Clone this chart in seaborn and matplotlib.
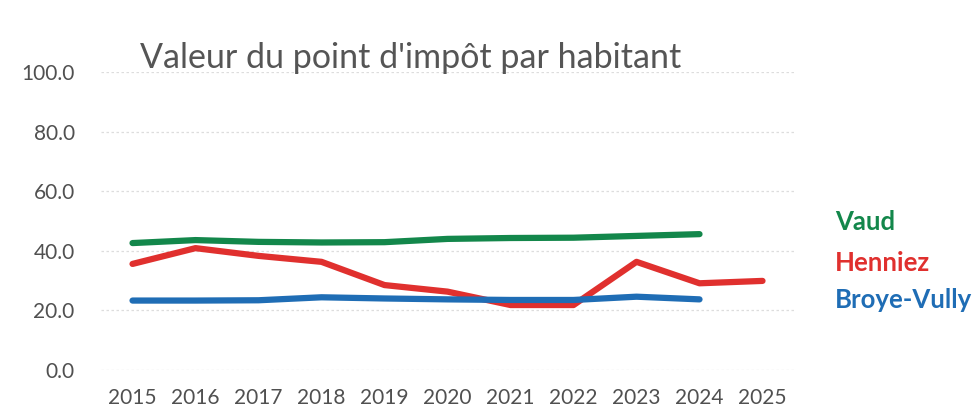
import matplotlib
matplotlib.use("Agg")
import matplotlib.pyplot as plt
import seaborn as sns
import pandas as pd

years = [2015, 2016, 2017, 2018, 2019, 2020, 2021, 2022, 2023, 2024, 2025]
vaud = [42.6, 43.6, 43.0, 42.8, 42.9, 44.0, 44.3, 44.4, 45.0, 45.6, None]
henniez = [35.6, 40.9, 38.3, 36.3, 28.5, 26.3, 21.8, 21.8, 36.3, 29.1, 29.9]
broye = [23.3, 23.3, 23.4, 24.4, 24.0, 23.7, 23.5, 23.5, 24.6, 23.7, None]
series_names = ["Vaud", "Henniez", "Broye-Vully"]
colors = ["#13874b", "#e0302e", "#1f6db5"]
yticks = [0, 20, 40, 60, 80, 100]
title = "Valeur du point d'impôt par habitant"

rows = []
for name, vals in zip(series_names, [vaud, henniez, broye]):
    for y, v in zip(years, vals):
        if v is not None:
            rows.append({"Année": y, "Valeur": v, "Série": name})
df = pd.DataFrame(rows)

sns.set_theme(style="white")
plt.rcParams["font.family"] = ["Lato", "DejaVu Sans"]

fig = plt.figure(figsize=(9.77, 4.19), dpi=100)
ax = fig.add_axes([0.1034, 0.117, 0.7093, 0.711])

for y in yticks:
    ax.axhline(y, color="#dddddd", lw=0.9, ls=(0, (2, 2)), zorder=0)

sns.lineplot(data=df, x="Année", y="Valeur", hue="Série", hue_order=series_names,
             palette=colors, linewidth=4.5, ax=ax, legend=False,
             solid_capstyle="round", solid_joinstyle="round")

ax.set_xlim(2014.5, 2025.5)
ax.set_ylim(0, 100)
ax.set_xticks(years)
ax.set_xticklabels([str(y) for y in years])
ax.set_yticks(yticks)
ax.set_yticklabels([f"{v:.1f}" for v in yticks])
ax.tick_params(axis="x", labelsize=15, colors="#505050", length=0, pad=13)
ax.tick_params(axis="y", labelsize=15, colors="#505050", length=0, pad=19)
ax.set_xlabel("")
ax.set_ylabel("")
for s in ax.spines.values():
    s.set_visible(False)

fig.text(0.143, 0.862, title, fontsize=24.5, color="#555555", va="center", ha="left")

label_y = [222, 263, 300]
for name, c, py in zip(series_names, colors, label_y):
    fig.text(835 / 977, 1 - py / 419, name, color=c, fontsize=18.5, fontweight="bold",
             va="center", ha="left")

fig.savefig("out.png", dpi=100)
